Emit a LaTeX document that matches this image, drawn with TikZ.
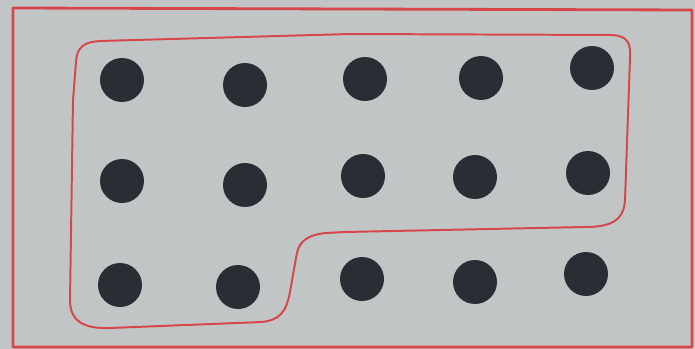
\documentclass[tikz,border=0pt]{standalone}
\usepackage{tikz}
\usetikzlibrary{calc}

\definecolor{cardgray}{HTML}{C2C5C6}
\definecolor{inkred}{HTML}{D6474A}
\definecolor{spotink}{HTML}{2A2D33}

\begin{document}
\begin{tikzpicture}[
  x=0.05cm,y=-0.05cm,
  line cap=round,
  line join=round,
  card/.style={draw=inkred,line width=4pt},
  lasso/.style={draw=inkred,line width=2.8pt},
  spot/.style={circle,fill=spotink,inner sep=0pt,minimum size=2.2cm}
]

% card background
\useasboundingbox (0,0) rectangle (695,349);
\fill[cardgray] (0,0) rectangle (695,349);
\draw[card] (13,8) -- (692,10) -- (692,347) -- (13,347) -- cycle;

% three rows of five spots
\foreach \x/\y/\n in {122/80/11, 245/85/12, 365/79/13, 481/78/14, 592/68/15,
                      122/181/21, 245/185/22, 363/176/23, 475/177/24, 588/173/25,
                      120/285/31, 238/287/32, 362/279/33, 475/282/34, 586/274/35}
  \node[spot] (s\n) at (\x,\y) {};

% hand drawn line round the top rows and the first two spots of the last row
\draw[lasso] (73,100) -- (76,62)
  .. controls (77,46) and (85,42) .. (100,41)
  -- (350,34) -- (612,35)
  .. controls (627,36) and (631,42) .. (630,58)
  -- (625,200)
  .. controls (624,221) and (610,227) .. (585,227)
  -- (345,232) -- (325,233)
  .. controls (302,236) and (298,245) .. (296,258)
  -- (290,292)
  .. controls (286,313) and (279,320) .. (262,322)
  -- (110,328)
  .. controls (82,329) and (70,320) .. (70,300)
  -- cycle;

\end{tikzpicture}
\end{document}
